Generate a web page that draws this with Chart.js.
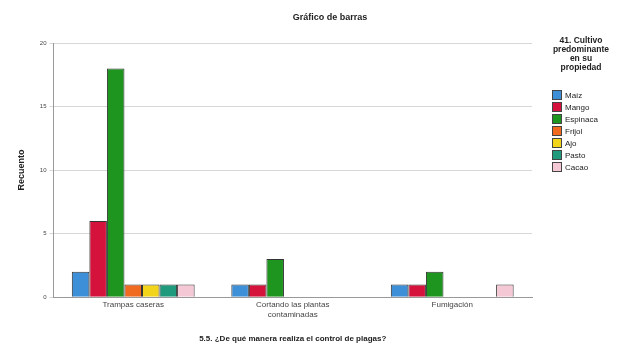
<!DOCTYPE html>
<html>
<head>
<meta charset="utf-8">
<script src="https://cdn.jsdelivr.net/npm/chart.js@4/dist/chart.umd.min.js"></script>
<style>
    body { margin: 0; background: #fff; font-family: "Liberation Sans", Arial, sans-serif; }
    #wrap { position: relative; width: 628px; height: 344px; }
    #titulo { position: absolute; left: 230px; top: 12px; width: 200px; text-align: center; font-size: 9px; font-weight: bold; color: #222; }
    #leyenda { position: absolute; left: 536px; top: 36px; width: 90px; font-size: 8px; color: #222; }
    #leyenda .tit { font-weight: bold; text-align: center; line-height: 9px; font-size: 8.5px; margin-bottom: 17px; }
    #leyenda .item { display: flex; align-items: center; height: 12px; margin-left: 16px; }
    #leyenda .caja { width: 8px; height: 8px; border: 1px solid #444; margin-right: 3px; }
</style>
</head>
<body>
<div id="wrap">
    <canvas id="graph1" width="628" height="344"></canvas>
    <div id="titulo">Gráfico de barras</div>
    <div id="leyenda"></div>
</div>
<script>
const categorias = ['Trampas caseras', ['Cortando las plantas', 'contaminadas'], 'Fumigación'];
const cultivos = ['Maíz', 'Mango', 'Espinaca', 'Frijol', 'Ajo', 'Pasto', 'Cacao'];
const colores = ['#3d8fd8', '#d4123c', '#1d951f', '#f06a1f', '#f2d41a', '#1f9a7c', '#f5c8d6'];
// recuento por cultivo, un valor por categoría (null = sin barra)
const maiz = [2, 1, 1];
const mango = [6, 1, 1];
const espinaca = [18, 3, 2];
const frijol = [1, null, null];
const ajo = [1, null, null];
const pasto = [1, null, null];
const cacao = [1, null, 1];
const ticksY = [0, 5, 10, 15, 20];

const series = [maiz, mango, espinaca, frijol, ajo, pasto, cacao];

let datasets = [];
for (let i = 0; i < cultivos.length; i++) {
    datasets.push({
        label: cultivos[i],
        data: series[i],
        backgroundColor: colores[i],
        borderColor: '#333',
        borderWidth: 1,
        categoryPercentage: 0.77,
        barPercentage: 1.0
    });
}

// leyenda a la derecha
let ley = document.getElementById('leyenda');
let html = '<div class="tit">41. Cultivo<br>predominante<br>en su<br>propiedad</div>';
for (let i = 0; i < cultivos.length; i++) {
    html += '<div class="item"><span class="caja" style="background:' + colores[i] + '"></span>' + cultivos[i] + '</div>';
}
ley.innerHTML = html;

let ctx = document.getElementById('graph1').getContext('2d');
const config = {
    type: 'bar',
    data: { labels: categorias, datasets: datasets },
    options: {
        responsive: false,
        animation: false,
        layout: { padding: { left: 16, right: 96, top: 43, bottom: 0 } },
        plugins: {
            legend: { display: false },
            tooltip: { enabled: false }
        },
        scales: {
            x: {
                grid: { display: false, drawTicks: false },
                border: { color: '#999' },
                ticks: { color: '#444', font: { family: 'Liberation Sans', size: 8 }, padding: 3, maxRotation: 0 },
                title: {
                    display: true,
                    text: '5.5. ¿De qué manera realiza el control de plagas?',
                    color: '#222',
                    font: { family: 'Liberation Sans', size: 8, weight: 'bold' },
                    padding: { top: 12, bottom: 0 }
                }
            },
            y: {
                min: 0,
                max: 20,
                afterBuildTicks: function (axis) {
                    axis.ticks = ticksY.map(v => ({ value: v }));
                },
                grid: { color: '#d8d8d8', drawTicks: true, tickLength: 4 },
                border: { color: '#999' },
                ticks: { color: '#444', font: { family: 'Liberation Sans', size: 6 }, padding: 3 },
                title: {
                    display: true,
                    text: 'Recuento',
                    color: '#222',
                    font: { family: 'Liberation Sans', size: 9, weight: 'bold' },
                    padding: { top: 0, bottom: 10 }
                }
            }
        }
    }
};
let graph1 = new Chart(ctx, config);
</script>
</body>
</html>
